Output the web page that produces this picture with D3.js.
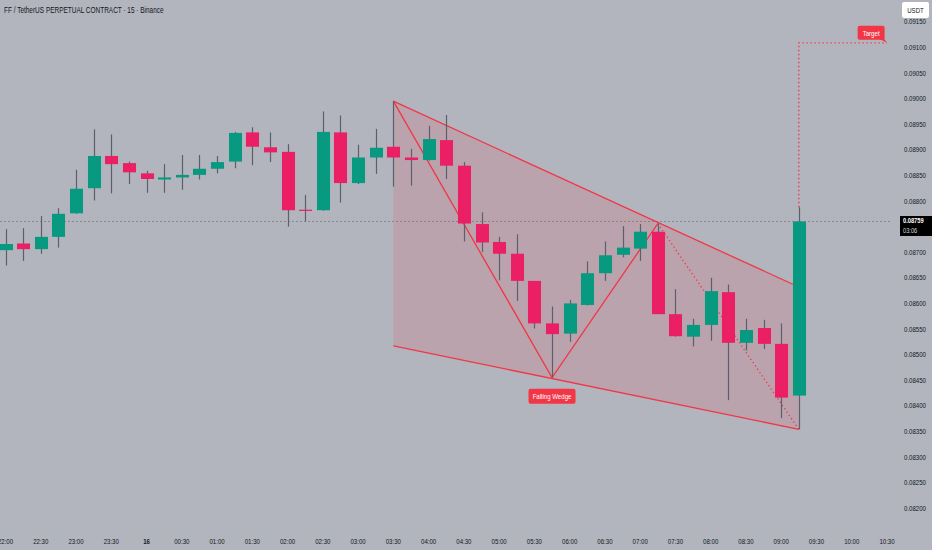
<!DOCTYPE html>
<html><head><meta charset="utf-8">
<script src="https://cdn.jsdelivr.net/npm/d3@7"></script>
<style>
html,body{margin:0;padding:0;background:#b2b5be;overflow:hidden}
svg{display:block}
text{font-family:"Liberation Sans",Arial,sans-serif}
</style></head>
<body>
<svg id="c" width="932" height="550"></svg>
<script>
// ---- data ----
const title = "FF / TetherUS PERPETUAL CONTRACT · 15 · Binance";
const opens  = [0.08703,0.08716,0.08705,0.08729,0.08775,0.08824,0.08887,0.08873,0.08853,0.08841,0.08845,0.08850,0.08862,0.08876,0.08933,0.08904,0.08895,0.08782,0.08781,0.08933,0.08834,0.08884,0.08905,0.08884,0.08879,0.08918,0.08868,0.08754,0.08719,0.08696,0.08643,0.08560,0.08540,0.08596,0.08658,0.08694,0.08706,0.08739,0.08578,0.08534,0.08557,0.08621,0.08522,0.08551,0.08520,0.08419];
const highs  = [0.08744,0.08746,0.08770,0.08785,0.08860,0.08939,0.08929,0.08876,0.08858,0.08871,0.08889,0.08889,0.08887,0.08934,0.08943,0.08933,0.08910,0.08811,0.08974,0.08966,0.08909,0.08940,0.08994,0.08901,0.08946,0.08967,0.08875,0.08777,0.08729,0.08734,0.08643,0.08593,0.08606,0.08681,0.08720,0.08750,0.08754,0.08755,0.08627,0.08569,0.08649,0.08636,0.08569,0.08567,0.08560,0.08787];
const lows   = [0.08673,0.08682,0.08696,0.08708,0.08774,0.08800,0.08814,0.08832,0.08815,0.08815,0.08821,0.08841,0.08853,0.08863,0.08869,0.08875,0.08749,0.08759,0.08780,0.08796,0.08832,0.08852,0.08827,0.08829,0.08878,0.08842,0.08720,0.08699,0.08644,0.08604,0.08550,0.08454,0.08524,0.08595,0.08643,0.08689,0.08682,0.08578,0.08534,0.08515,0.08526,0.08410,0.08507,0.08510,0.08375,0.08353];
const closes = [0.08715,0.08705,0.08729,0.08774,0.08823,0.08887,0.08871,0.08855,0.08842,0.08845,0.08850,0.08862,0.08875,0.08932,0.08905,0.08894,0.08781,0.08781,0.08934,0.08834,0.08884,0.08903,0.08884,0.08879,0.08920,0.08868,0.08755,0.08718,0.08696,0.08643,0.08560,0.08539,0.08599,0.08658,0.08693,0.08708,0.08739,0.08578,0.08535,0.08557,0.08623,0.08522,0.08547,0.08520,0.08415,0.08759];

const timeLabels = ["22:00","22:30","23:00","23:30","16","00:30","01:00","01:30","02:00","02:30","03:00","03:30","04:00","04:30","05:00","05:30","06:00","06:30","07:00","07:30","08:00","08:30","09:00","09:30","10:00","10:30"];
// 0.08750 is hidden behind the last-price label in the reference
const priceTicks = [0.0820,0.0825,0.0830,0.0835,0.0840,0.0845,0.0850,0.0855,0.0860,0.0865,0.0870,0.0880,0.0885,0.0890,0.0895,0.0900,0.0905,0.0910,0.0915];
const lastPrice = 0.08759;
const countdown = "03:06";
const currency = "USDT";

// wedge pattern anchors: [candle index, price]
const wedgePoly = [[22,0.08994],[45,0.08631],[45,0.08353],[22,0.08516]];
const zigzagSolid = [[22,0.08994],[31,0.08454],[37,0.08755]];
const zigzagDotted = [[37,0.08755],[45,0.08353]];
const targetPath = [[45,0.08787],[45,0.09108],[50,0.09108]];
const targetLabel = {text:"Target", idx:49.1, price:0.09108};
const wedgeLabel = {text:"Falling Wedge", idx:31, price:0.08454};

// ---- scales ----
const svg = d3.select("#c");
const x = d3.scaleLinear().domain([0,50]).range([5.5, 887]);
const y = d3.scaleLinear().domain([0.0820,0.0915]).range([507.7, 21.3]);
const step = x(1)-x(0);
const bodyW = step*0.74;

const GREEN="#089981", RED="#eb1f63", LINE="#f23645", WICK="#5d606b";
const NARROW = 0.76;
function narrow(sel){
  sel.each(function(){
    const len = this.getComputedTextLength();
    if (len>0) d3.select(this).attr("textLength", len*NARROW).attr("lengthAdjust","spacingAndGlyphs");
  });
  return sel;
}

// price line
svg.append("line").attr("x1",0).attr("x2",890)
  .attr("y1",y(lastPrice)).attr("y2",y(lastPrice))
  .attr("stroke","#868992").attr("stroke-width",1).attr("stroke-dasharray","2,2");

// wedge fill & lines
const line = d3.line().x(d=>x(d[0])).y(d=>y(d[1]));
svg.append("path").attr("d", line(wedgePoly)+"Z")
  .attr("fill","rgba(242,54,69,0.14)").attr("stroke","none");
svg.append("path").attr("d", line([wedgePoly[0],wedgePoly[1]]))
  .attr("fill","none").attr("stroke",LINE).attr("stroke-width",1.3);
svg.append("path").attr("d", line([wedgePoly[3],wedgePoly[2]]))
  .attr("fill","none").attr("stroke",LINE).attr("stroke-width",1.3);
svg.append("path").attr("d", line(zigzagSolid))
  .attr("fill","none").attr("stroke",LINE).attr("stroke-width",1.3);
svg.append("path").attr("d", line(zigzagDotted))
  .attr("fill","none").attr("stroke",LINE).attr("stroke-width",1.3).attr("stroke-dasharray","1.3,2.7");

// candles
const data = opens.map((o,i)=>({i,o,h:highs[i],l:lows[i],c:closes[i]}));
const g = svg.append("g");
g.selectAll("line.w").data(data).enter().append("line")
  .attr("x1",d=>Math.round(x(d.i))+0.5).attr("x2",d=>Math.round(x(d.i))+0.5)
  .attr("y1",d=>y(d.h)).attr("y2",d=>y(d.l))
  .attr("stroke",WICK).attr("stroke-width",1.2);
g.selectAll("rect.b").data(data).enter().append("rect")
  .attr("x",d=>Math.round(x(d.i))+0.5-bodyW/2)
  .attr("width",bodyW)
  .attr("y",d=>y(Math.max(d.o,d.c)))
  .attr("height",d=>Math.max(1.2, Math.abs(y(d.o)-y(d.c))))
  .attr("fill",d=>d.c>=d.o?GREEN:RED);

// target dotted path
svg.append("path").attr("d", line(targetPath))
  .attr("fill","none").attr("stroke",LINE).attr("stroke-width",1.3).attr("stroke-dasharray","1.3,2.7");

// labels
function tag(lbl, cx, top, w, h, tail){
  const gg = svg.append("g");
  gg.append("rect").attr("x",cx-w/2).attr("y",top).attr("width",w).attr("height",h)
    .attr("rx",2).attr("fill",LINE);
  if (tail) gg.append("path").attr("d",tail).attr("fill",LINE);
  narrow(gg.append("text").attr("x",cx).attr("y",top+h/2+2.8).attr("text-anchor","middle")
    .attr("fill","#fff").attr("font-size",8).text(lbl));
}
{
  const cx = x(targetLabel.idx), yy = y(targetLabel.price);
  const top = yy-17, h=14;
  const tail = `M${cx+8},${top+h-1} L${cx+13},${top+h-1} L${x(50)},${yy} Z`;
  tag(targetLabel.text, cx, top, 27, h, tail);
}
{
  const cx = x(wedgeLabel.idx), yy = y(wedgeLabel.price);
  tag(wedgeLabel.text, cx, yy+11, 47, 15, null);
}

// title
narrow(svg.append("text").attr("x",4).attr("y",13).attr("font-size",8.5).attr("fill","#131722")
  .text(title));

// right price axis
narrow(svg.append("g").selectAll("text").data(priceTicks).enter().append("text")
  .attr("x",904).attr("y",d=>y(d)+3).attr("font-size",8).attr("fill","#131722")
  .text(d=>d.toFixed(5)));

// time axis
narrow(svg.append("g").selectAll("text").data(timeLabels).enter().append("text")
  .attr("x",(d,i)=>x(i*2)).attr("y",544).attr("text-anchor","middle")
  .attr("font-size",8).attr("fill","#131722")
  .attr("font-weight",d=>d==="16"?"bold":"normal")
  .text(d=>d));

// currency box
svg.append("rect").attr("x",902).attr("y",2).attr("width",27).attr("height",16).attr("rx",2).attr("fill","#fff");
narrow(svg.append("text").attr("x",915.5).attr("y",13).attr("text-anchor","middle").attr("font-size",8).attr("fill","#131722").text(currency));

// last price label
const ly = y(lastPrice);
svg.append("rect").attr("x",900).attr("y",ly-5.5).attr("width",32).attr("height",20).attr("fill","#000");
narrow(svg.append("text").attr("x",903).attr("y",ly+2).attr("font-size",7.5).attr("font-weight","bold").attr("fill","#fff").text(lastPrice.toFixed(5)));
narrow(svg.append("text").attr("x",903).attr("y",ly+11.5).attr("font-size",7.5).attr("fill","#d1d4dc").text(countdown));
</script>
</body></html>
